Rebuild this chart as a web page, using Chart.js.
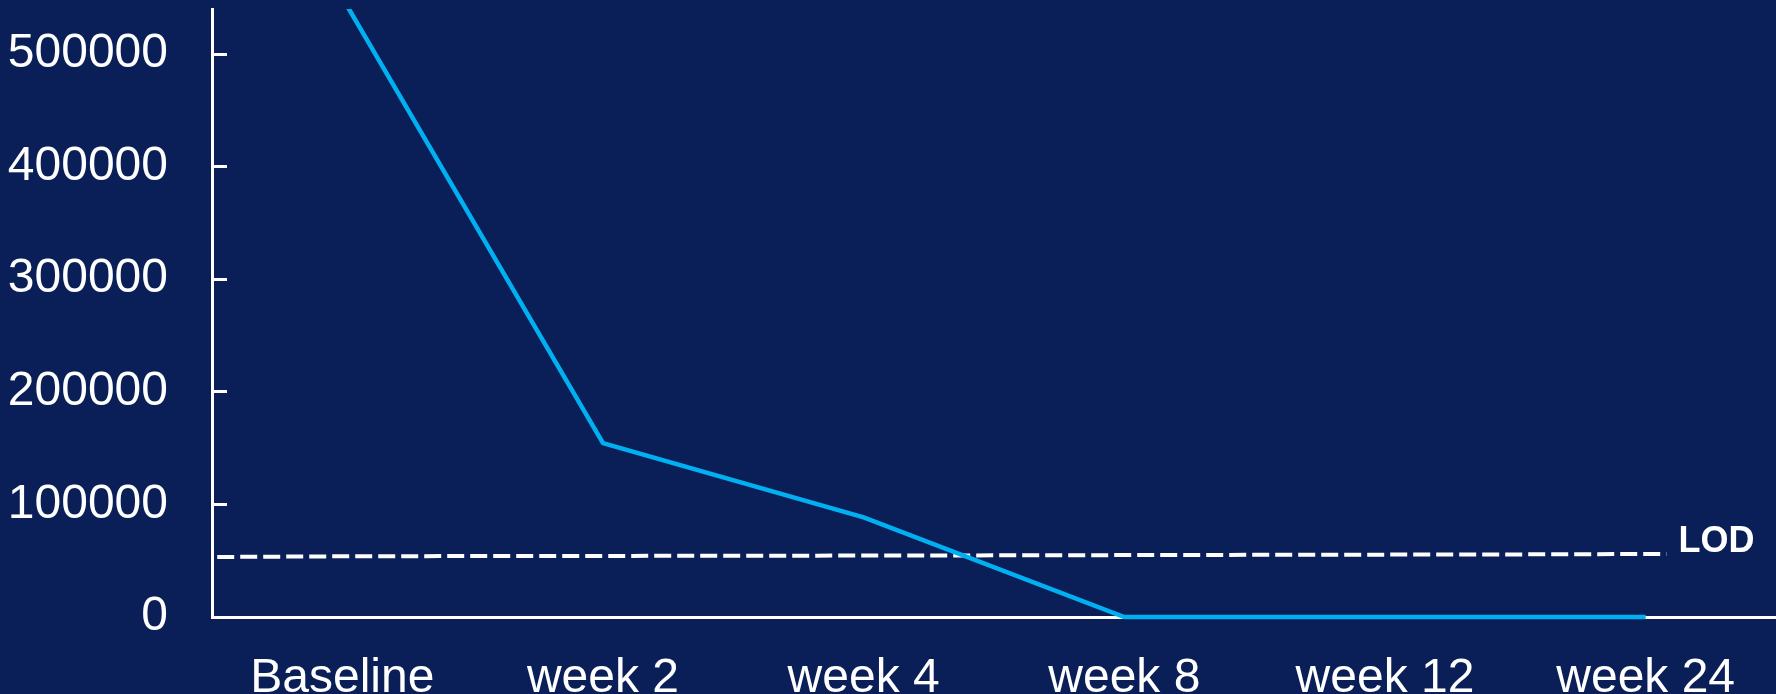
<!DOCTYPE html>
<html>
<head>
<meta charset="utf-8">
<script src="https://cdn.jsdelivr.net/npm/chart.js@4/dist/chart.umd.min.js"></script>
<style>
  html, body { margin: 0; padding: 0; background: #0a1e58; }
  #wrap { width: 1776px; height: 694px; position: relative; }
</style>
</head>
<body>
<div id="wrap"><canvas id="grafico"></canvas></div>
<script>
// valores
const categorias = ['Baseline', 'week 2', 'week 4', 'week 8', 'week 12', 'week 24'];
const cargaViral = [550000, 154500, 88500, 0, 0, 0];

// linha de limite de detecção (posição em unidades de categoria)
const lodX = [-0.48, 0.07, 1.2, 2.4, 3.5, 4.5, 5.08];
const lodY = [53300, 54000, 54300, 54700, 55200, 55600, 56000];
const lodTexto = 'LOD';

const yMin = 0;
const yMax = 540000;
const yTicks = [0, 100000, 200000, 300000, 400000, 500000];

const fonte = '"Liberation Sans", Arial, sans-serif';
const branco = '#ffffff';

// escreve "LOD" ao lado do fim da linha tracejada
const rotuloLod = {
  id: 'rotuloLod',
  afterDatasetsDraw(chart) {
    const meta = chart.getDatasetMeta(1);
    const ultimo = meta.data[meta.data.length - 1];
    const ctx = chart.ctx;
    ctx.save();
    ctx.font = 'bold 36px ' + fonte;
    ctx.fillStyle = branco;
    ctx.textAlign = 'left';
    ctx.textBaseline = 'alphabetic';
    ctx.fillText(lodTexto, ultimo.x + 12, ultimo.y - 2);
    ctx.restore();
  }
};

const ctx = document.getElementById('grafico').getContext('2d');
new Chart(ctx, {
  type: 'line',
  data: {
    labels: categorias,
    datasets: [{
      data: cargaViral,
      borderColor: '#00b0f0',
      borderWidth: 4.5,
      pointRadius: 0,
      tension: 0,
      clip: { left: 5, top: 0, right: 5, bottom: 5 },
      xAxisID: 'x'
    }, {
      data: lodX.map((x, i) => ({ x: x, y: lodY[i] })),
      borderColor: branco,
      borderWidth: 4,
      borderDash: [17, 6],
      pointRadius: 0,
      tension: 0,
      xAxisID: 'xLod'
    }]
  },
  options: {
    responsive: true,
    maintainAspectRatio: false,
    animation: false,
    layout: { padding: { top: 9, right: 0, left: 0, bottom: 0 } },
    plugins: {
      legend: { display: false },
      tooltip: { enabled: false }
    },
    scales: {
      x: {
        type: 'category',
        offset: true,
        grid: { display: false },
        border: { display: true, color: branco, width: 3 },
        ticks: { color: branco, padding: 25, font: { family: fonte, size: 48 } },
        afterFit: axis => { axis.height = 77; }
      },
      xLod: {
        type: 'linear',
        display: false,
        min: -0.5,
        max: 5.5
      },
      y: {
        min: yMin,
        max: yMax,
        grid: {
          drawOnChartArea: false,
          drawTicks: true,
          tickLength: -15,
          color: branco,
          lineWidth: 3
        },
        border: { display: true, color: branco, width: 3 },
        ticks: {
          color: branco,
          padding: 59,
          font: { family: fonte, size: 48 },
          callback: v => String(v)
        },
        afterBuildTicks: axis => { axis.ticks = yTicks.map(v => ({ value: v })); },
        afterFit: axis => {
          axis.width = 212;
          axis.paddingTop = 0;
          axis.paddingBottom = 0;
        }
      }
    }
  },
  plugins: [rotuloLod]
});
</script>
</body>
</html>
